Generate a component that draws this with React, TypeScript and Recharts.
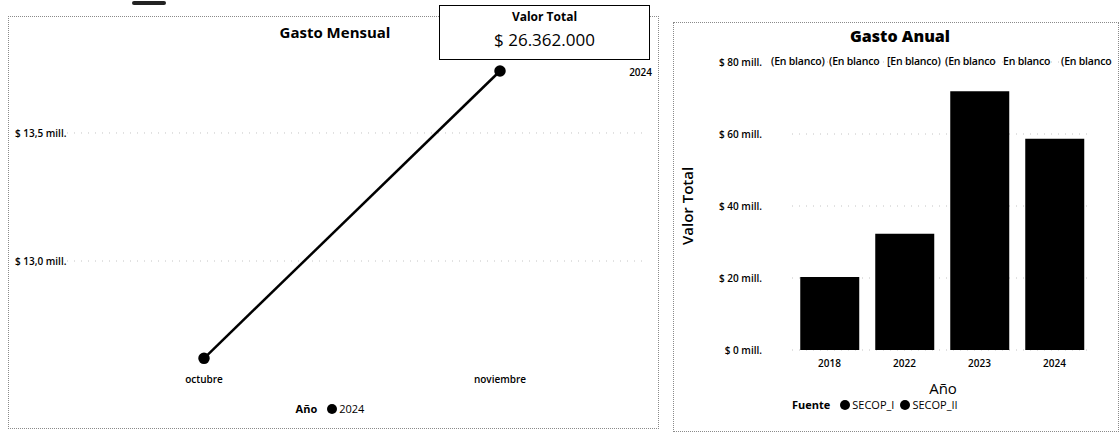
import {
  Bar,
  BarChart,
  CartesianGrid,
  Line,
  LineChart,
  XAxis,
  YAxis,
} from "recharts";

// Gasto Mensual (millones)
const months = ["octubre", "noviembre"];
const monthlyValues = [12.62, 13.742];
const monthlyTicks = [13.0, 13.5];
const monthlyDomain = [12.59, 13.824];
const totalValue = "$ 26.362.000";
const seriesYear = "2024";

// Gasto Anual (millones)
const years = ["2018", "2022", "2023", "2024"];
const yearlyValues = [20.3, 32.3, 71.9, 58.7];
const yearlyTicks = [0, 20, 40, 60, 80];
const blankLabels = [
  "(En blanco)",
  "(En blanco",
  "[En blanco)",
  "(En blanco",
  "En blanco",
  "(En blanco",
];
const fuentes = ["SECOP_I", "SECOP_II"];

const monthlyData = months.map((m, i) => ({ mes: m, valor: monthlyValues[i] }));
const yearlyData = years.map((y, i) => ({ anio: y, valor: yearlyValues[i] }));

const FONT = "'Open Sans', 'Noto Sans', sans-serif";
const dotted = "1px dotted #8a8a8a";

const fmtMonthly = (v: number) => `$ ${v.toFixed(1).replace(".", ",")} mill.`;
const fmtYearly = (v: number) => `$ ${v} mill.`;

function LeftTick(props: any) {
  const { y, payload } = props;
  return (
    <text x={15} y={y} dy={4} fontSize={10} fontWeight={600} fill="#000" fontFamily={FONT}>
      {fmtMonthly(payload.value)}
    </text>
  );
}

function RightTick(props: any) {
  const { y, payload } = props;
  return (
    <text x={102} y={y} dy={4} textAnchor="end" fontSize={10} fontWeight={600} fill="#000" fontFamily={FONT}>
      {fmtYearly(payload.value)}
    </text>
  );
}

export default function App() {
  return (
    <div
      style={{
        position: "absolute",
        left: 0,
        top: 0,
        width: 1119,
        height: 433,
        background: "#fff",
        overflow: "hidden",
        fontFamily: FONT,
        color: "#000",
      }}
    >
      {/* scan smudge */}
      <div style={{ position: "absolute", left: 132, top: 1, width: 34, height: 4, background: "#222", borderRadius: 2 }} />

      {/* panels */}
      <div style={{ position: "absolute", left: 8, top: 16, width: 649, height: 411, border: dotted }} />
      <div style={{ position: "absolute", left: 673, top: 22, width: 444, height: 408, border: dotted }} />

      {/* Gasto Mensual */}
      <div style={{ position: "absolute", left: 0, top: 0 }}>
        <LineChart
          width={660}
          height={433}
          data={monthlyData}
          margin={{ top: 50, right: 15, bottom: 37, left: 0 }}
        >
          <CartesianGrid vertical={false} stroke="#c4c4c4" strokeDasharray="1 6" syncWithTicks />
          <XAxis
            dataKey="mes"
            axisLine={false}
            tickLine={false}
            height={30}
            padding={{ left: 144, right: 145 }}
            tick={{ fontSize: 10, fontWeight: 600, fill: "#000", fontFamily: FONT }}
            tickMargin={4}
          />
          <YAxis
            type="number"
            domain={monthlyDomain}
            ticks={monthlyTicks}
            width={60}
            axisLine={false}
            tickLine={false}
            tick={<LeftTick />}
          />
          <Line
            type="linear"
            dataKey="valor"
            stroke="#000"
            strokeWidth={2.5}
            dot={{ r: 4.5, fill: "#000", stroke: "#000" }}
            isAnimationActive={false}
          />
        </LineChart>
      </div>
      <div style={{ position: "absolute", left: 235, top: 22, width: 200, textAlign: "center", fontSize: 15, fontWeight: 700 }}>
        Gasto Mensual
      </div>
      <div style={{ position: "absolute", left: 610, top: 65, width: 42, textAlign: "right", fontSize: 10, fontWeight: 600 }}>
        {seriesYear}
      </div>
      <div style={{ position: "absolute", left: 230, top: 401, width: 200, display: "flex", justifyContent: "center", alignItems: "center", fontSize: 11 }}>
        <span style={{ fontWeight: 700, marginRight: 10 }}>Año</span>
        <span style={{ width: 10, height: 10, borderRadius: 5, background: "#000", marginRight: 2 }} />
        <span>{seriesYear}</span>
      </div>

      {/* Valor Total card */}
      <div
        style={{
          position: "absolute",
          left: 439,
          top: 5,
          width: 209,
          height: 53,
          border: "1.5px solid #000",
          background: "#fff",
          textAlign: "center",
        }}
      >
        <div style={{ fontSize: 12, fontWeight: 700, marginTop: 2 }}>Valor Total</div>
        <div style={{ fontSize: 17, marginTop: 3 }}>{totalValue}</div>
      </div>

      {/* Gasto Anual */}
      <div style={{ position: "absolute", left: 660, top: 0 }}>
        <BarChart
          width={459}
          height={433}
          data={yearlyData}
          margin={{ top: 62, right: 27, bottom: 53, left: 0 }}
          barCategoryGap="11%"
        >
          <CartesianGrid vertical={false} stroke="#c4c4c4" strokeDasharray="1 6" syncWithTicks />
          <XAxis
            dataKey="anio"
            axisLine={false}
            tickLine={false}
            height={30}
            tick={{ fontSize: 10, fontWeight: 600, fill: "#000", fontFamily: FONT }}
            tickMargin={4}
          />
          <YAxis
            type="number"
            domain={[0, 80]}
            ticks={yearlyTicks}
            width={132}
            axisLine={false}
            tickLine={false}
            tick={<RightTick />}
          />
          <Bar dataKey="valor" fill="#000" isAnimationActive={false} />
        </BarChart>
      </div>
      <div style={{ position: "absolute", left: 800, top: 25, width: 200, textAlign: "center", fontSize: 16, fontWeight: 800 }}>
        Gasto Anual
      </div>
      <div
        style={{
          position: "absolute",
          left: 679,
          top: 206,
          fontSize: 15,
          fontWeight: 600,
          transform: "translate(0, -50%) rotate(-90deg)",
          transformOrigin: "center",
          width: 16,
          display: "flex",
          justifyContent: "center",
          whiteSpace: "nowrap",
        }}
      >
        Valor Total
      </div>
      <div style={{ position: "absolute", left: 672, top: 0, width: 446, height: 433, overflow: "hidden" }}>
        {blankLabels.map((t, i) => (
          <div key={i} style={{ position: "absolute", left: 99 + i * 58, top: 54, fontSize: 10.5, fontWeight: 600, letterSpacing: -0.2, whiteSpace: "nowrap" }}>
            {t}
          </div>
        ))}
      </div>
      <div style={{ position: "absolute", left: 843, top: 378, width: 200, textAlign: "center", fontSize: 15 }}>
        Año
      </div>
      <div style={{ position: "absolute", left: 792, top: 397, display: "flex", alignItems: "center", fontSize: 11 }}>
        <span style={{ fontWeight: 700, marginRight: 10 }}>Fuente</span>
        {fuentes.map((f) => (
          <span key={f} style={{ display: "flex", alignItems: "center", marginRight: 6 }}>
            <span style={{ width: 10, height: 10, borderRadius: 5, background: "#000", marginRight: 2 }} />
            {f}
          </span>
        ))}
      </div>
    </div>
  );
}
